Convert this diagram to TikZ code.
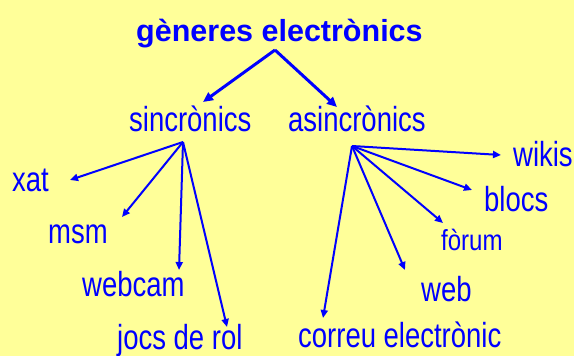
\documentclass[tikz,border=0pt]{standalone}
\usepackage{fontspec}
\setmainfont{Liberation Sans}
\usetikzlibrary{arrows.meta}
\definecolor{bgyellow}{HTML}{FFFF99}
\definecolor{txtblue}{HTML}{0000FF}
\begin{document}
\begin{tikzpicture}[x=1pt,y=1pt,
  lbl/.style={anchor=base west,inner sep=0pt,text=txtblue,xscale=0.79,transform shape,font=\fontsize{34.8}{38}\selectfont},
  ttl/.style={anchor=base west,inner sep=0pt,text=txtblue,font=\fontsize{30.5}{34}\selectfont\bfseries},
  arr/.style={draw=txtblue,line width=2pt,-{Triangle[length=8pt,width=7pt]}},
  bigarr/.style={draw=txtblue,line width=3pt,line join=miter,-{Triangle[length=10pt,width=9pt]}}]
\fill[bgyellow] (0,0) rectangle (574,356);
\useasboundingbox (0,0) rectangle (574,356);
\node[ttl] (title) at (136,314) {gèneres electrònics};
\node[lbl] (sinc) at (129,224) {sincrònics};
\node[lbl] (asinc) at (288,224) {asincrònics};
\node[lbl] (xat) at (12,164) {xat};
\node[lbl] (msm) at (48,112) {msm};
\node[lbl] (webcam) at (82,59) {webcam};
\node[lbl] (jocs) at (117,6) {jocs de rol};
\node[lbl] (wikis) at (513,189) {wikis};
\node[lbl] (blocs) at (484,144) {blocs};
\node[lbl,xscale=1.05,font=\fontsize{29}{32}\selectfont] (forum) at (441,105) {fòrum};
\node[lbl] (web) at (421,54) {web};
\node[lbl] (correu) at (298,8) {correu electrònic};
\coordinate (th) at ([shift={(139,-8)}]title.base west);
\coordinate (sh) at ([shift={(54,-10)}]sinc.base west);
\coordinate (ah) at ([shift={(64,-14)}]asinc.base west);
\draw[bigarr] (th) -- ([shift={(74,30)}]sinc.base west);
\draw[bigarr] (th) -- ([shift={(49,25)}]asinc.base west);
\draw[arr] (sh) -- ([shift={(58,12)}]xat.base west);
\draw[arr] (sh) -- ([shift={(74,27)}]msm.base west);
\draw[arr] (sh) -- ([shift={(97,27)}]webcam.base west);
\draw[arr] (sh) -- ([shift={(110,23)}]jocs.base west);
\draw[arr] (ah) -- ([shift={(-12,12)}]wikis.base west);
\draw[arr] (ah) -- ([shift={(-12,22)}]blocs.base west);
\draw[arr] (ah) -- ([shift={(2,28)}]forum.base west);
\draw[arr] (ah) -- ([shift={(-16,32)}]web.base west);
\draw[arr] (ah) -- ([shift={(25,30)}]correu.base west);
\end{tikzpicture}
\end{document}
